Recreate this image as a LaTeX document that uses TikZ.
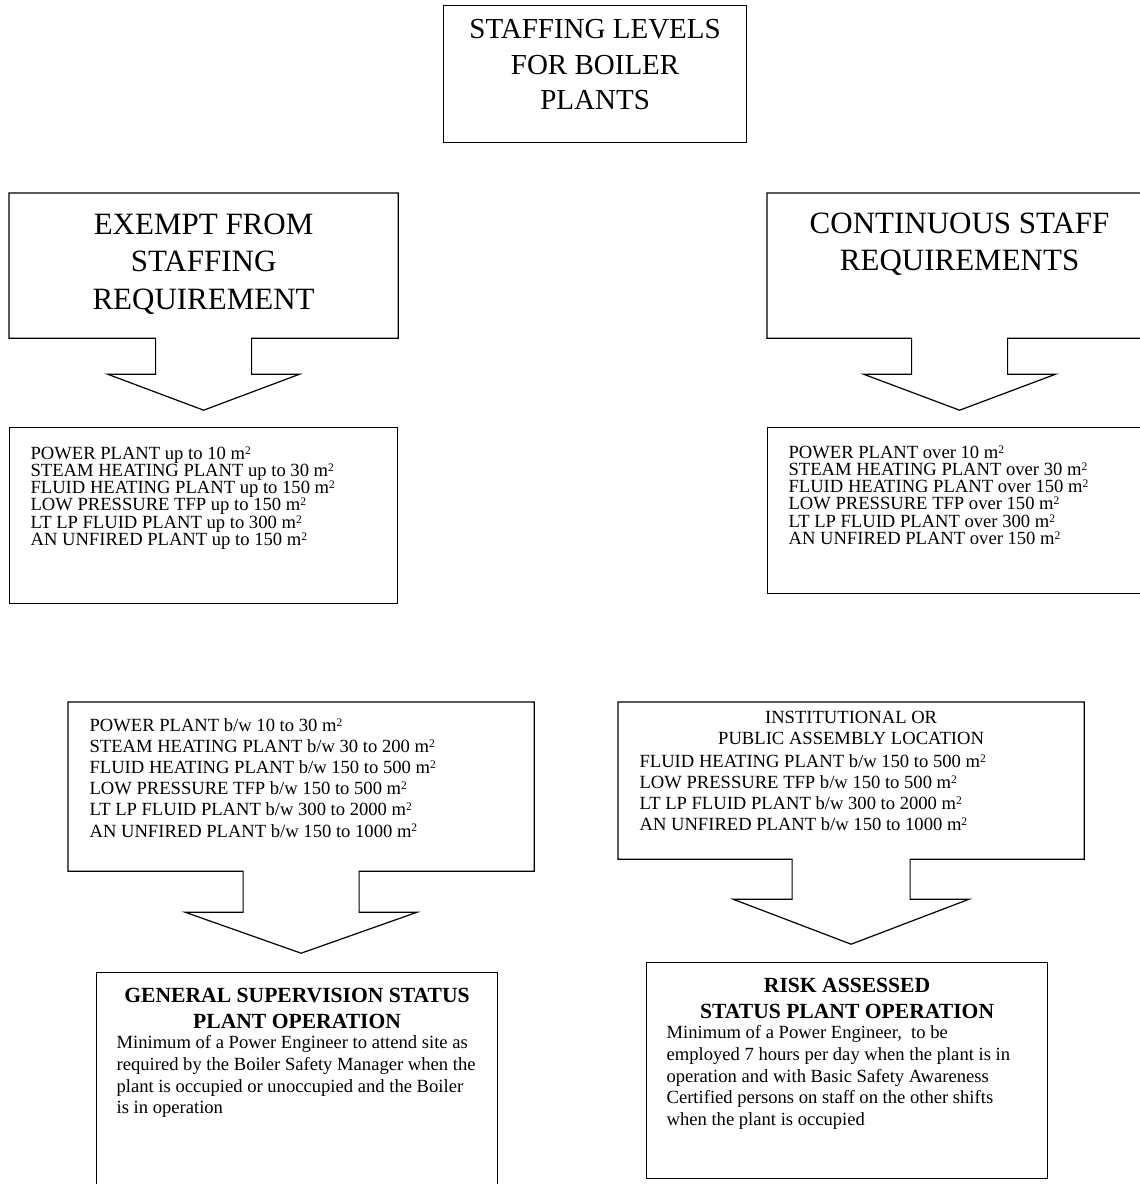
\documentclass[tikz,border=0pt]{standalone}
\usepackage{fontspec}
\setmainfont{Liberation Serif}
\usetikzlibrary{positioning, calc}
\setlength{\lineskiplimit}{-5pt}
\newcommand{\sqm}{m\raisebox{0.27em}{\scalebox{0.62}{2}}}

\begin{document}
\begin{tikzpicture}
	[x=0.5pt, y=-0.5pt,
	 line width=0.6pt,
	 boxst/.style={draw, rectangle, inner sep=0pt, anchor=north west},
	 callst/.style={rectangle, inner sep=0pt, anchor=north west},
	 ttltxt/.style={inner sep=0pt, align=center, anchor=north, font=\fontsize{14.5}{17.75}\selectfont},
	 headtxt/.style={inner sep=0pt, align=center, anchor=north, font=\fontsize{15.5}{18.75}\selectfont},
	 listtxt/.style={inner sep=0pt, align=left, anchor=north west, font=\fontsize{9.3}{8.6}\selectfont},
	 widetxt/.style={listtxt, font=\fontsize{9.3}{10.55}\selectfont},
	 boldtxt/.style={inner sep=0pt, align=center, anchor=north, font=\fontsize{10.8}{13}\selectfont\bfseries},
	 bodytxt/.style={inner sep=0pt, align=left, anchor=north west, font=\fontsize{9.3}{10.85}\selectfont}]

	\clip (0,0) rectangle (1140,1184);

	\node[boxst, minimum width=151.5pt, minimum height=68.5pt] (tbox) at (443,5) {};
	\node[ttltxt, below=7pt of tbox.north] (ttl) {STAFFING LEVELS\\FOR BOILER\\PLANTS};

	\node[callst, minimum width=194pt, minimum height=72pt] (exm) at (9,193) {};
	\node[headtxt, below=10pt of exm.north] (exmt) {EXEMPT FROM\\STAFFING\\REQUIREMENT};
	\coordinate (exmtip) at ($(exm.south)+(0,72)$);
	\draw (exm.south west) -- (exm.north west) -- (exm.north east) -- (exm.south east)
	  -- ($(exm.south)+(48,0)$) -- ($(exm.south)+(48,36)$) -- ($(exm.south)+(96,36)$) -- (exmtip)
	  -- ($(exm.south)+(-96,36)$) -- ($(exm.south)+(-48,36)$) -- ($(exm.south)+(-48,0)$) -- cycle;

	\node[callst, minimum width=192pt, minimum height=72pt] (cnt) at (767,193) {};
	\node[headtxt, below=9.5pt of cnt.north] (cntt) {CONTINUOUS STAFF\\REQUIREMENTS};
	\coordinate (cnttip) at ($(cnt.south)+(0,72)$);
	\draw (cnt.south west) -- (cnt.north west) -- (cnt.north east) -- (cnt.south east)
	  -- ($(cnt.south)+(48,0)$) -- ($(cnt.south)+(48,36)$) -- ($(cnt.south)+(96,36)$) -- (cnttip)
	  -- ($(cnt.south)+(-96,36)$) -- ($(cnt.south)+(-48,36)$) -- ($(cnt.south)+(-48,0)$) -- cycle;

	\node[boxst, minimum width=194pt, minimum height=88pt] (upl) at (9,427) {};
	\node[listtxt, below right=9.5pt and 10.5pt of upl.north west] (uplt)
	  {POWER PLANT up to 10 \sqm\\
	   STEAM HEATING PLANT up to 30 \sqm\\
	   FLUID HEATING PLANT up to 150 \sqm\\
	   LOW PRESSURE TFP up to 150 \sqm\\
	   LT LP FLUID PLANT up to 300 \sqm\\
	   AN UNFIRED PLANT up to 150 \sqm};

	\node[boxst, minimum width=192pt, minimum height=83pt] (ovr) at (767,427) {};
	\node[listtxt, below right=9pt and 10.5pt of ovr.north west] (ovrt)
	  {POWER PLANT over 10 \sqm\\
	   STEAM HEATING PLANT over 30 \sqm\\
	   FLUID HEATING PLANT over 150 \sqm\\
	   LOW PRESSURE TFP over 150 \sqm\\
	   LT LP FLUID PLANT over 300 \sqm\\
	   AN UNFIRED PLANT over 150 \sqm};

	\node[callst, minimum width=232.5pt, minimum height=84pt] (btw) at (68,702) {};
	\node[widetxt, below right=8pt and 10.5pt of btw.north west] (btwt)
	  {POWER PLANT b/w 10 to 30 \sqm\\
	   STEAM HEATING PLANT b/w 30 to 200 \sqm\\
	   FLUID HEATING PLANT b/w 150 to 500 \sqm\\
	   LOW PRESSURE TFP b/w 150 to 500 \sqm\\
	   LT LP FLUID PLANT b/w 300 to 2000 \sqm\\
	   AN UNFIRED PLANT b/w 150 to 1000 \sqm};
	\coordinate (btwtip) at ($(btw.south)+(0,82)$);
	\draw (btw.south west) -- (btw.north west) -- (btw.north east) -- (btw.south east)
	  -- ($(btw.south)+(58,0)$) -- ($(btw.south)+(58,41)$) -- ($(btw.south)+(116,41)$) -- (btwtip)
	  -- ($(btw.south)+(-116,41)$) -- ($(btw.south)+(-58,41)$) -- ($(btw.south)+(-58,0)$) -- cycle;

	\node[callst, minimum width=232.5pt, minimum height=78pt] (ins) at (618,702) {};
	\node[widetxt, align=center, anchor=north, below=4.25pt of ins.north] (inst)
	  {INSTITUTIONAL OR\\PUBLIC ASSEMBLY LOCATION};
	\node[widetxt, below right=26pt and 10.5pt of ins.north west] (insl)
	  {FLUID HEATING PLANT b/w 150 to 500 \sqm\\
	   LOW PRESSURE TFP b/w 150 to 500 \sqm\\
	   LT LP FLUID PLANT b/w 300 to 2000 \sqm\\
	   AN UNFIRED PLANT b/w 150 to 1000 \sqm};
	\coordinate (instip) at ($(ins.south)+(0,85)$);
	\draw (ins.south west) -- (ins.north west) -- (ins.north east) -- (ins.south east)
	  -- ($(ins.south)+(59,0)$) -- ($(ins.south)+(59,40)$) -- ($(ins.south)+(118,40)$) -- (instip)
	  -- ($(ins.south)+(-118,40)$) -- ($(ins.south)+(-59,40)$) -- ($(ins.south)+(-59,0)$) -- cycle;

	\node[boxst, minimum width=200.5pt, minimum height=114pt] (gen) at (96,972) {};
	\node[boldtxt, below=8pt of gen.north] (gent) {GENERAL SUPERVISION STATUS\\PLANT OPERATION};
	\node[bodytxt, below right=31.5pt and 10pt of gen.north west] (genb)
	  {Minimum of a Power Engineer to attend site as\\
	   required by the Boiler Safety Manager when the\\
	   plant is occupied or unoccupied and the Boiler\\
	   is in operation};

	\node[boxst, minimum width=200.5pt, minimum height=108pt] (rsk) at (646,962) {};
	\node[boldtxt, below=8pt of rsk.north] (rskt) {RISK ASSESSED\\STATUS PLANT OPERATION};
	\node[bodytxt, below right=31.5pt and 10pt of rsk.north west] (rskb)
	  {Minimum of a Power Engineer,~ to be\\
	   employed 7 hours per day when the plant is in\\
	   operation and with Basic Safety Awareness\\
	   Certified persons on staff on the other shifts\\
	   when the plant is occupied};
\end{tikzpicture}
\end{document}
